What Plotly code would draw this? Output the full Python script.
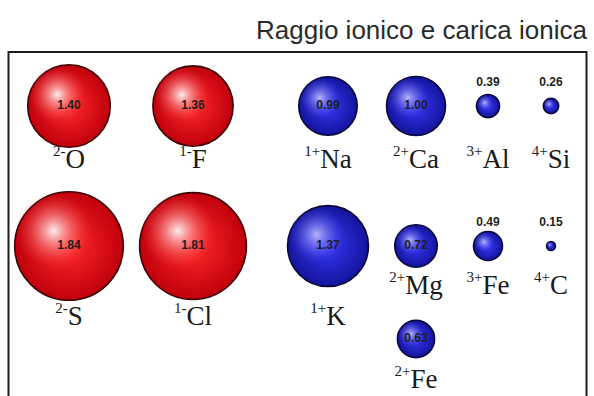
import plotly.graph_objects as go

# Ionic radii in ångström, with ion symbol and charge
symbols = ["O", "F", "Na", "Ca", "Al", "Si", "S", "Cl", "K", "Mg", "Fe", "C", "Fe"]
charges = ["2-", "1-", "1+", "2+", "3+", "4+", "2-", "1-", "1+", "2+", "3+", "4+", "2+"]
radii = [1.40, 1.36, 0.99, 1.00, 0.39, 0.26, 1.84, 1.81, 1.37, 0.72, 0.49, 0.15, 0.63]

# Grid placement (column, row) of each ion and where its name sits
col_x = [69, 193, 328, 416, 488, 551]
row_y = [106, 246, 339]
grid_col = [0, 1, 2, 3, 4, 5, 0, 1, 2, 3, 4, 5, 3]
grid_row = [0, 0, 0, 0, 0, 0, 1, 1, 1, 1, 1, 1, 2]
name_y = [161, 161, 161, 161, 161, 161, 318, 318, 318, 287, 287, 287, 381]

PX_PER_ANGSTROM = 29.5  # radius scale in pixels

xs = [col_x[c] for c in grid_col]
ys = [row_y[r] for r in grid_row]
is_anion = [q.endswith("-") for q in charges]

fig = go.Figure()

styles = {
    True: dict(edge="#c0000c", center="#ff2a2a", line="#3c0505",
               hl="rgba(255,255,255,0.92)", hl0="rgba(255,60,60,0)"),
    False: dict(edge="#14149e", center="#3636f4", line="#08083a",
                hl="rgba(205,205,255,0.85)", hl0="rgba(80,80,255,0)"),
}

for anion in (True, False):
    idx = [i for i in range(len(radii)) if is_anion[i] == anion]
    st = styles[anion]
    r = [radii[i] for i in idx]
    x = [xs[i] for i in idx]
    y = [ys[i] for i in idx]
    # sphere body
    fig.add_trace(go.Scatter(
        x=x, y=y, mode="markers", hoverinfo="skip",
        marker=dict(size=r, sizemode="diameter", sizeref=1 / (2 * PX_PER_ANGSTROM),
                    color=st["edge"], opacity=1,
                    gradient=dict(type="radial", color=st["center"]),
                    line=dict(width=1.6, color=st["line"])),
    ))
    # soft specular highlight towards the upper left
    fig.add_trace(go.Scatter(
        x=[xi - 0.28 * ri * PX_PER_ANGSTROM for xi, ri in zip(x, r)],
        y=[yi - 0.28 * ri * PX_PER_ANGSTROM for yi, ri in zip(y, r)],
        mode="markers", hoverinfo="skip",
        marker=dict(size=[ri * 0.7 for ri in r], sizemode="diameter",
                    sizeref=1 / (2 * PX_PER_ANGSTROM),
                    color=st["hl0"], opacity=1,
                    gradient=dict(type="radial", color=st["hl"]),
                    line=dict(width=0)),
    ))

# radius values: inside large spheres, above the small ones
val_x, val_y, val_t = [], [], []
for i, rv in enumerate(radii):
    val_x.append(xs[i])
    if rv < 0.55:
        val_y.append(ys[i] - 23)
    else:
        val_y.append(ys[i])
    val_t.append(f"{rv:.2f}")

fig.add_trace(go.Scatter(
    x=val_x, y=val_y, text=val_t, mode="text", hoverinfo="skip",
    textposition="middle center",
    textfont=dict(family="Liberation Sans", size=12, color="#1e1e1e", weight="bold"),
))

# ion names with the charge as a small superscript
fig.add_trace(go.Scatter(
    x=xs, y=name_y, mode="text", hoverinfo="skip",
    text=[f"<sup><span style='font-size:15px'>{q}</span></sup>{s}"
          for q, s in zip(charges, symbols)],
    textposition="middle center",
    textfont=dict(family="Liberation Serif", size=27, color="#1a1a1a"),
))

fig.add_shape(type="rect", x0=8.5, x1=586.5, y0=52, y1=420,
              line=dict(color="#1e1e1e", width=2), fillcolor="rgba(0,0,0,0)",
              layer="below")

fig.add_annotation(text="Raggio ionico e carica ionica", x=590, y=30,
                   xanchor="right", yanchor="middle", showarrow=False,
                   font=dict(family="Liberation Sans", size=26, color="#2a2a2a"))

fig.update_layout(
    width=594, height=396,
    margin=dict(l=0, r=0, t=0, b=0),
    paper_bgcolor="white", plot_bgcolor="white",
    showlegend=False,
    xaxis=dict(range=[0, 594], visible=False, fixedrange=True),
    yaxis=dict(range=[396, 0], visible=False, fixedrange=True),
)

fig.write_html("out.html", config={"displayModeBar": False})
